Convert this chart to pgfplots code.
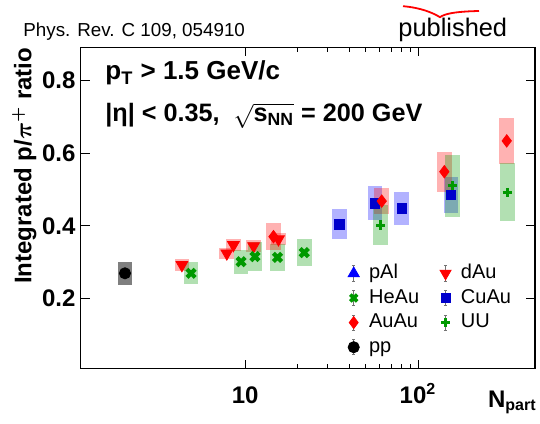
\documentclass[border=0pt]{standalone}
\usepackage{fontspec}
\setmainfont{Liberation Sans}
\usepackage{amsmath}
\usepackage{pgfplots}
\usepackage{pgfplotstable}
\pgfplotsset{compat=1.18}

\definecolor{rgreen}{RGB}{0,153,0}
\definecolor{rblue}{RGB}{0,0,204}

% x = Npart, y = p/pi+ ratio, ey = half height of systematic box
\pgfplotstableread{
x y ey
4.31 0.292 0.016
7.84 0.324 0.016
8.56 0.347 0.016
11.2 0.344 0.016
15.6 0.363 0.016
}\dAu
\pgfplotstableread{
x y ey
4.87 0.269 0.030
9.48 0.301 0.033
11.4 0.315 0.039
15.4 0.313 0.037
22.0 0.326 0.038
}\HeAu
\pgfplotstableread{
x y ey
35.1 0.404 0.041
56.4 0.462 0.047
80.6 0.448 0.045
155 0.485 0.049
}\CuAu
\pgfplotstableread{
x y ey
14.6 0.370 0.037
61.7 0.468 0.035
142 0.549 0.055
326 0.634 0.063
}\AuAu
\pgfplotstableread{
x y ey
60.8 0.402 0.054
158 0.510 0.086
328 0.492 0.080
}\UU
\pgfplotstableread{
x y ey
2.02 0.269 0.0325
}\pp

\pgfplotsset{
  errleg/.style={legend image code/.code={
    \path (0pt,0pt) (8.5pt,0pt);
    \draw[black!55, line width=0.4pt] (3pt,-3.8pt) -- (3pt,3.8pt)
      (2.2pt,3.8pt) -- (3.8pt,3.8pt) (2.2pt,-3.8pt) -- (3.8pt,-3.8pt);
    \draw[only marks] plot coordinates {(3pt,0pt)};}},
  sysbox/.style={forget plot, draw=none, mark=none,
    /pgfplots/error bars/y dir=both,
    /pgfplots/error bars/y explicit,
    /pgfplots/error bars/error mark=none,
    /pgfplots/error bars/error bar style={line width=7.35pt, draw=#1, draw opacity=0.3}},
  sysbox/.default=red,
}

\begin{document}
\begin{tikzpicture}
\begin{axis}[
  scale only axis,
  width=227.15pt, height=160.7pt,
  xmode=log,
  xmin=1.12, xmax=475,
  ymin=0.006, ymax=0.892,
  xtick={10,100}, xticklabels={10,10\textsuperscript{2}},
  ytick={0.2,0.4,0.6,0.8}, yticklabels={0.2,0.4,0.6,0.8},
  minor y tick num=0,
  /pgf/number format/assume math mode=true,
  tick align=inside,
  major tick length=4.5pt, minor tick length=2.6pt,
  axis line style={line width=0.6pt},
  every tick/.style={black, line width=0.5pt},
  tick label style={font=\bfseries\fontsize{12}{14}\selectfont},
  xticklabel style={anchor=base, yshift=-17.3pt},
  yticklabel style={inner sep=0pt, xshift=-2.4pt},
  legend columns=2,
  legend cell align=left,
  legend style={at={(rel axis cs:0.586,0.336)}, anchor=north west,
    draw=none, fill=none, inner sep=0pt,
    font=\fontsize{10}{12}\selectfont,
    nodes={inner xsep=2pt, inner ysep=1.4pt, text height=7.3pt, text depth=2.2pt},
    /tikz/every even column/.append style={column sep=8pt}},
]
\coordinate (O) at (rel axis cs:0,0);
\coordinate (TL) at (rel axis cs:0,1);

% legend entries (pAl has no points on the plot)
\addlegendimage{errleg, blue, mark=triangle*, mark size=3.2pt}
\addlegendentry{pAl}
\addlegendimage{errleg, red, mark=triangle*, mark size=3.2pt, mark options={rotate=180}}
\addlegendentry{dAu}
\addlegendimage{errleg, rgreen, mark=x, mark size=2.4pt, mark options={line width=1.8pt}}
\addlegendentry{HeAu}
\addlegendimage{errleg, rblue, mark=square*, mark size=2.2pt}
\addlegendentry{CuAu}
\addlegendimage{errleg, red, mark=diamond*, mark size=3pt}
\addlegendentry{AuAu}
\addlegendimage{errleg, rgreen, mark=+, mark size=2.2pt, mark options={line width=1.4pt}}
\addlegendentry{UU}
\addlegendimage{errleg, black, mark=*, mark size=2.8pt}
\addlegendentry{pp}

% markers first, translucent systematic boxes over them
\addplot[forget plot, only marks, red, mark=triangle*, mark size=3.4pt,
  mark options={rotate=180}] table[x=x, y=y] {\dAu};
\addplot[sysbox=red] table[x=x, y=y, y error=ey] {\dAu};

\addplot[forget plot, only marks, rgreen, mark=x, mark size=2.9pt,
  mark options={line width=2.1pt}] table[x=x, y=y] {\HeAu};
\addplot[sysbox=rgreen] table[x=x, y=y, y error=ey] {\HeAu};

\addplot[forget plot, only marks, rblue, mark=square*, mark size=2.35pt] table[x=x, y=y] {\CuAu};
\addplot[sysbox=blue] table[x=x, y=y, y error=ey] {\CuAu};

\addplot[forget plot, only marks, red, mark=diamond*, mark size=3.1pt] table[x=x, y=y] {\AuAu};
\addplot[sysbox=red] table[x=x, y=y, y error=ey] {\AuAu};

\addplot[forget plot, only marks, rgreen, mark=+, mark size=2.3pt,
  mark options={line width=1.5pt}] table[x=x, y=y] {\UU};
\addplot[sysbox=rgreen] table[x=x, y=y, y error=ey] {\UU};

\addplot[forget plot, only marks, black, mark=*, mark size=2.8pt] table[x=x, y=y] {\pp};
\addplot[forget plot, draw=none, mark=none,
  error bars/.cd, y dir=both, y explicit, error mark=none,
  error bar style={line width=7.35pt, draw=black, draw opacity=0.5}]
  table[x=x, y=y, y error=ey] {\pp};
\end{axis}

% labels and annotations
\node[rotate=90, anchor=south east, inner sep=0pt,
  font=\bfseries\fontsize{12}{14}\selectfont]
  at ([xshift=-21.9pt]TL) {Integrated p/{\boldmath$\pi^{+}$} ratio};
\node[anchor=base east, inner sep=0pt, font=\bfseries\fontsize{12}{14}\selectfont]
  at ([shift={(228.15pt,-19.15pt)}]O) {N\textsubscript{part}};
\node[anchor=base west, inner sep=0pt, font=\bfseries\fontsize{13}{15}\selectfont]
  at ([shift={(12.15pt,144.35pt)}]O) {p\textsubscript{T} > 1.5 GeV/c};
\node[anchor=base west, inner sep=0pt, font=\bfseries\fontsize{12.6}{15}\selectfont]
  at ([shift={(12.15pt,123.35pt)}]O)
  {|η| < 0.35,\ \ $\sqrt{\text{s}_{\text{NN}}}$ = 200 GeV};
\node[anchor=base west, inner sep=0pt, font=\fontsize{9.4}{11}\selectfont]
  at ([shift={(-28.85pt,165.85pt)}]O) {Phys. Rev. C 109, 054910};
\node[anchor=base west, inner sep=0pt, font=\fontsize{12.7}{14}\selectfont]
  at ([shift={(158.65pt,165.85pt)}]O) {published};
\draw[red, line width=0.9pt]
  ([shift={(161.15pt,181.25pt)}]O) .. controls ([shift={(170pt,180.5pt)}]O)
  and ([shift={(176pt,178pt)}]O) .. ([shift={(179.65pt,175.75pt)}]O)
  .. controls ([shift={(182pt,177.6pt)}]O) and ([shift={(188pt,178.6pt)}]O)
  .. ([shift={(199.15pt,178.85pt)}]O);

\pgfresetboundingbox
\path ([shift={(-40.35pt,-27.15pt)}]O) rectangle ([shift={(229.65pt,184.35pt)}]O);
\end{tikzpicture}
\end{document}
